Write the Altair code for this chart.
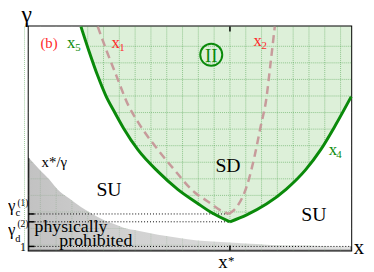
import altair as alt
import pandas as pd
import numpy as np

# ---- data (arbitrary units; x* = 6.24) ----
xs    = [0.00, 0.34, 0.64, 0.89, 1.25, 1.62, 1.87, 2.14, 2.39, 2.63, 2.94, 3.39,
         4.01, 4.62, 5.23, 5.69, 6.24, 6.76, 7.37, 7.98, 8.59, 9.05, 9.51, 10.0]
upper = [10.0, 10.0, 10.0, 10.0, 10.0, 10.0, 8.90, 7.80, 6.92, 6.26, 5.46, 4.49,
         3.52, 2.73, 2.11, 1.67, 1.28, 1.59, 2.07, 2.73, 3.61, 4.49, 5.59, 6.87]
gray  = [4.14, 3.61, 3.17, 2.73, 2.33, 1.94, 1.72, 1.50, 1.32, 1.19, 1.01, 0.88,
         0.70, 0.57, 0.44, 0.40, 0.35, 0.31, 0.26, 0.22, 0.22, 0.20, 0.18, 0.18]

green_left_x  = [1.62, 1.87, 2.14, 2.39, 2.63, 2.94, 3.39, 4.01, 4.62, 5.23, 5.69, 6.24]
green_left_y  = [10.0, 8.90, 7.80, 6.92, 6.26, 5.46, 4.49, 3.52, 2.73, 2.11, 1.67, 1.28]
green_right_x = [6.24, 6.76, 7.37, 7.98, 8.59, 9.05, 9.51, 10.0]
green_right_y = [1.28, 1.59, 2.07, 2.73, 3.61, 4.49, 5.59, 6.87]

red_left_x  = [2.14, 2.42, 2.72, 3.09, 3.39, 4.01, 4.46, 5.14, 5.54, 5.99, 6.21]
red_left_y  = [10.0, 8.90, 7.80, 6.48, 5.73, 4.49, 3.70, 2.60, 2.20, 1.76, 1.63]
red_right_x = [6.21, 6.45, 6.78, 7.00, 7.20, 7.36, 7.50, 7.63]
red_right_y = [1.63, 1.94, 2.95, 4.19, 5.59, 6.70, 8.37, 10.0]

x_star = 6.24
gamma_c = 1.63
gamma_d = 1.28
gamma_1 = 0.18

GREEN = "#0a8a0a"
RED = "#ff2a2a"
FONT = "Liberation Serif"

xsc = alt.Scale(domain=[0, 10], nice=False, zero=False)
ysc = alt.Scale(domain=[0, 10], nice=False, zero=False)
X = lambda f: alt.X(f, type="quantitative", scale=xsc, axis=None)
Y = lambda f: alt.Y(f, type="quantitative", scale=ysc, axis=None)

regions = pd.DataFrame({"x": xs, "upper": upper, "gray": gray})
regions["zero"] = 0.0
greenreg = regions.iloc[5:].copy()
greenreg["top"] = 10.0

green_area = alt.Chart(greenreg).mark_area(color="#ddf0d9", interpolate="monotone").encode(
    x=X("x"), y=Y("upper"), y2=alt.Y2("top"))

# grid (visible only in shaded regions)
gx = pd.DataFrame({"x": [x_star + k * 0.49 for k in range(-13, 8)]})
gx["y0"] = 0.0
gx["y1"] = 10.0
gy = pd.DataFrame({"y": [9.12 - k * 0.74 for k in range(0, 13)]})
gy["x0"] = 0.0
gy["x1"] = 10.0
grid_v = alt.Chart(gx).mark_rule(color="#3f9a3f", strokeDash=[1, 1], strokeWidth=1, opacity=0.5).encode(
    x=X("x"), y=Y("y0"), y2=alt.Y2("y1"))
grid_h = alt.Chart(gy).mark_rule(color="#3f9a3f", strokeDash=[1, 1], strokeWidth=1, opacity=0.5).encode(
    y=Y("y"), x=X("x0"), x2=alt.X2("x1"))

white_area = alt.Chart(regions).mark_area(color="white", interpolate="monotone").encode(
    x=X("x"), y=Y("gray"), y2=alt.Y2("upper"))

gray_area = alt.Chart(regions).mark_area(
    interpolate="monotone", opacity=0.7,
    color=alt.Gradient(gradient="linear", x1=0, x2=1, y1=0, y2=0,
                       stops=[alt.GradientStop(color="#a8a8a8", offset=0),
                              alt.GradientStop(color="#bdbdbd", offset=0.3),
                              alt.GradientStop(color="#d6d6d6", offset=1)])
).encode(x=X("x"), y=Y("gray"), y2=alt.Y2("zero"))

dots = pd.DataFrame({
    "x0": [0, 0, 0], "x1": [6.21, x_star, 10], "y": [gamma_c, gamma_d, gamma_1]})
dotted = alt.Chart(dots).mark_rule(color="black", strokeDash=[1, 2], strokeWidth=1).encode(
    x=X("x0"), x2=alt.X2("x1"), y=Y("y"))

red_df = pd.DataFrame({
    "x": red_left_x + red_right_x, "y": red_left_y + red_right_y,
    "b": ["l"] * len(red_left_x) + ["r"] * len(red_right_x)})
red_line = alt.Chart(red_df).mark_line(color="#c79b9b", strokeWidth=2.5, strokeDash=[8, 5],
                                       interpolate="monotone").encode(
    x=X("x"), y=Y("y"), detail="b:N")

green_df = pd.DataFrame({
    "x": green_left_x + green_right_x, "y": green_left_y + green_right_y,
    "b": ["l"] * len(green_left_x) + ["r"] * len(green_right_x)})
green_line = alt.Chart(green_df).mark_line(color=GREEN, strokeWidth=3, interpolate="monotone").encode(
    x=X("x"), y=Y("y"), detail="b:N")

ticks = pd.DataFrame({
    "x0": [0, 0, 0, x_star, x_star], "x1": [0.18, 0.18, 0.18, x_star, x_star],
    "y0": [gamma_c, gamma_d, gamma_1, 0, 10], "y1": [gamma_c, gamma_d, gamma_1, 0.22, 9.78]})
tick_marks = alt.Chart(ticks).mark_rule(color="black", strokeWidth=1.5).encode(
    x=X("x0"), x2=alt.X2("x1"), y=Y("y0"), y2=alt.Y2("y1"))

circle = alt.Chart(pd.DataFrame({"x": [5.66], "y": [8.74]})).mark_point(
    shape="circle", size=500, filled=False, stroke=GREEN, strokeWidth=2, opacity=1).encode(
    x=X("x"), y=Y("y"))

# labels: text, x, y, size, color
center_labels = pd.DataFrame([
    ["γ", -0.06, 10.22, 24, "black"],
    ["x", 10.24, -0.18, 21, "black"],
    ["x", 6.02, -0.79, 19, "black"],
    ["*", 6.28, -0.64, 13, "black"],
    ["(b)", 0.63, 9.03, 15, RED],
    ["SD", 6.18, 3.52, 20, "black"],
    ["SU", 2.49, 2.42, 20, "black"],
    ["SU", 8.84, 1.32, 20, "black"],
    ["1", -0.18, -0.04, 12, "black"],
], columns=["t", "x", "y", "s", "c"])
left_labels = pd.DataFrame([
    ["x", 1.19, 9.03, 17, GREEN], ["5", 1.44, 8.90, 11, GREEN],
    ["x", 2.57, 9.03, 17, RED], ["1", 2.81, 8.90, 11, RED],
    ["x", 6.97, 9.12, 17, RED], ["2", 7.22, 8.99, 11, RED],
    ["x", 9.30, 4.27, 17, GREEN], ["4", 9.54, 4.14, 11, GREEN],
    ["x*/γ", 0.40, 3.74, 15, "black"],
    ["physically", 0.18, 0.84, 18, "black"],
    ["prohibited", 0.95, 0.22, 18, "black"],
    ["γ", -0.64, 1.78, 17, "black"], ["c", -0.41, 1.54, 11, "black"], ["(1)", -0.35, 2.00, 9.5, "black"],
    ["γ", -0.64, 0.70, 17, "black"], ["d", -0.42, 0.40, 10.5, "black"], ["(2)", -0.35, 1.03, 9.5, "black"],
], columns=["t", "x", "y", "s", "c"])

txt_c = alt.Chart(center_labels).mark_text(font=FONT, align="center", baseline="alphabetic").encode(
    x=X("x"), y=Y("y"), text="t:N",
    size=alt.Size("s:Q", scale=None), color=alt.Color("c:N", scale=None))
txt_l = alt.Chart(left_labels).mark_text(font=FONT, align="left", baseline="alphabetic").encode(
    x=X("x"), y=Y("y"), text="t:N",
    size=alt.Size("s:Q", scale=None), color=alt.Color("c:N", scale=None))
txt_ii = alt.Chart(pd.DataFrame({"t": ["II"], "x": [5.66], "y": [8.74]})).mark_text(
    font=FONT, align="center", baseline="middle", fontSize=19, color=GREEN, dy=1).encode(
    x=X("x"), y=Y("y"), text="t:N")

chart = alt.layer(
    green_area, grid_v, grid_h, white_area, gray_area, dotted,
    red_line, green_line, tick_marks, circle, txt_c, txt_l, txt_ii
).properties(
    width=327, height=227,
    autosize=alt.AutoSizeParams(type="none"),
    padding={"left": 21, "top": 17, "right": 15, "bottom": 20},
).configure_view(stroke="black", strokeWidth=2)

chart.save("out.html", embed_options={"renderer": "svg", "actions": False})
